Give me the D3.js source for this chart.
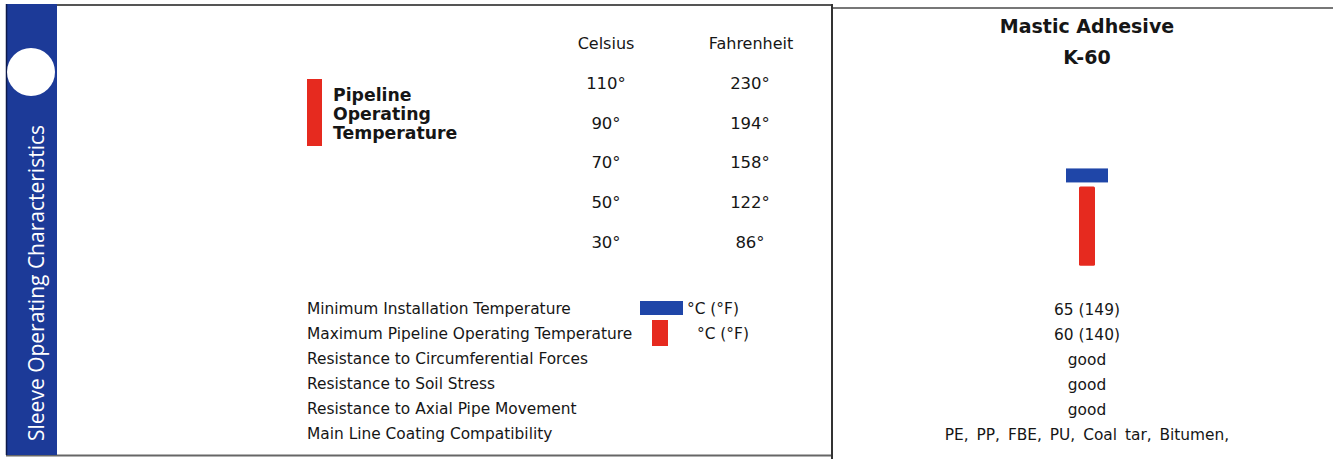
<!DOCTYPE html>
<html>
<head>
<meta charset="utf-8">
<script src="https://cdn.jsdelivr.net/npm/d3@7"></script>
<style>
  body { margin: 0; background: #fff; }
  svg { display: block; }
</style>
</head>
<body>
<div id="chart"></div>
<script>
// temperature scale shown in the middle column
var celsiusTicks = [110, 90, 70, 50, 30];
var fahrenheitTicks = [230, 194, 158, 122, 86];

// property rows and the product's values
var properties = [
    "Minimum Installation Temperature",
    "Maximum Pipeline Operating Temperature",
    "Resistance to Circumferential Forces",
    "Resistance to Soil Stress",
    "Resistance to Axial Pipe Movement",
    "Main Line Coating Compatibility"
];
var productValues = [
    "65 (149)",
    "60 (140)",
    "good",
    "good",
    "good",
    "PE, PP, FBE, PU, Coal tar, Bitumen,"
];
var productName = ["Mastic Adhesive", "K-60"];

// bar values (deg C)
var minInstallTemp = 65;
var maxOperatingTemp = 60;
var barBaseTemp = 18; // estimated bottom of the red bar

var width = 1333, height = 459;
var blue = "#1f46a8", red = "#e62a1f", ink = "#161616";
var font = "'DejaVu Sans', Verdana, sans-serif";

var svg = d3.select("#chart").append("svg")
    .attr("width", width)
    .attr("height", height)
    .style("font-family", font);

// frame lines
svg.append("line").attr("x1", 57).attr("x2", 833).attr("y1", 5).attr("y2", 5)
    .attr("stroke", "#555").attr("stroke-width", 2);
svg.append("line").attr("x1", 833).attr("x2", width).attr("y1", 8).attr("y2", 8)
    .attr("stroke", "#777").attr("stroke-width", 2);
svg.append("line").attr("x1", 6).attr("x2", 833).attr("y1", 455.5).attr("y2", 455.5)
    .attr("stroke", "#666").attr("stroke-width", 2);
svg.append("line").attr("x1", 832).attr("x2", 832).attr("y1", 4).attr("y2", height)
    .attr("stroke", "#333").attr("stroke-width", 2);

// side band
svg.append("rect").attr("x", 6).attr("y", 4).attr("width", 51).attr("height", 451)
    .attr("fill", "#1c3a98");
svg.append("line").attr("x1", 6.5).attr("x2", 6.5).attr("y1", 4).attr("y2", 455)
    .attr("stroke", "#0d1a4a").attr("stroke-width", 1.5);
svg.append("circle").attr("cx", 31).attr("cy", 72).attr("r", 24).attr("fill", "#fff");
svg.append("text")
    .attr("transform", "translate(44,283)rotate(-90)")
    .attr("text-anchor", "middle")
    .style("font-family", "'Open Sans', sans-serif")
    .style("font-size", "21px")
    .style("fill", "#fff")
    .text("Sleeve Operating Characteristics");

// temperature scale
var y = d3.scaleLinear().domain([30, 110]).range([242, 83]);

svg.append("text").attr("x", 606).attr("y", 49).attr("text-anchor", "middle")
    .style("font-size", "16px").style("fill", ink).text("Celsius");
svg.append("text").attr("x", 751).attr("y", 49).attr("text-anchor", "middle")
    .style("font-size", "16px").style("fill", ink).text("Fahrenheit");

var cAxis = svg.append("g")
    .attr("transform", "translate(606,0)")
    .call(d3.axisLeft(y).tickValues(celsiusTicks).tickSize(0).tickPadding(0)
        .tickFormat(function(d) { return d + "°"; }));

var fAxis = svg.append("g")
    .attr("transform", "translate(750,0)")
    .call(d3.axisLeft(y).tickValues(celsiusTicks).tickSize(0).tickPadding(0)
        .tickFormat(function(d, i) { return fahrenheitTicks[i] + "°"; }));

[cAxis, fAxis].forEach(function(a) {
    a.select(".domain").remove();
    a.attr("font-family", font).attr("font-size", 16.5);
    a.selectAll("text").attr("text-anchor", "middle").attr("fill", ink);
});

// pipeline operating temperature key
svg.append("rect").attr("x", 307).attr("y", 79).attr("width", 15).attr("height", 67)
    .attr("fill", red);
svg.append("text")
    .attr("x", 333).attr("y", 101)
    .style("font-size", "17.3px").style("font-weight", "bold").style("fill", ink)
    .selectAll("tspan")
    .data(["Pipeline", "Operating", "Temperature"])
    .enter().append("tspan")
    .attr("x", 333)
    .attr("dy", function(d, i) { return i ? 19 : 0; })
    .text(function(d) { return d; });

// property rows
var rowY = d3.scalePoint().domain(d3.range(properties.length)).range([309, 434]);

svg.selectAll(".prop")
    .data(properties)
    .enter().append("text")
    .attr("class", "prop")
    .attr("x", 307)
    .attr("y", function(d, i) { return rowY(i) + 5; })
    .style("font-size", "15.4px").style("fill", ink)
    .text(function(d) { return d; });

// legend swatches
svg.append("rect").attr("x", 640).attr("y", 301).attr("width", 43).attr("height", 14)
    .attr("fill", blue);
svg.append("rect").attr("x", 652).attr("y", 320).attr("width", 16).attr("height", 26)
    .attr("fill", red);
svg.append("text").attr("x", 687).attr("y", rowY(0) + 5)
    .style("font-size", "15.4px").style("fill", ink).text("°C (°F)");
svg.append("text").attr("x", 697).attr("y", rowY(1) + 5)
    .style("font-size", "15.4px").style("fill", ink).text("°C (°F)");

// product column
var cx = 1087;
svg.selectAll(".pname")
    .data(productName)
    .enter().append("text")
    .attr("class", "pname")
    .attr("x", cx)
    .attr("y", function(d, i) { return 33 + i * 31; })
    .attr("text-anchor", "middle")
    .style("font-size", "19px").style("font-weight", "bold").style("fill", ink)
    .text(function(d) { return d; });

svg.append("rect")
    .attr("x", cx - 8)
    .attr("y", y(maxOperatingTemp) + 4)
    .attr("width", 16)
    .attr("height", y(barBaseTemp) - y(maxOperatingTemp) - 4)
    .attr("rx", 1.5)
    .attr("fill", red);

svg.append("rect")
    .attr("x", cx - 21)
    .attr("y", y(minInstallTemp) - 4)
    .attr("width", 42)
    .attr("height", 14)
    .attr("fill", blue);

svg.selectAll(".pval")
    .data(productValues)
    .enter().append("text")
    .attr("class", "pval")
    .attr("x", cx)
    .attr("y", function(d, i) { return rowY(i) + 6; })
    .attr("text-anchor", "middle")
    .style("font-size", "15.4px").style("fill", ink)
    .style("word-spacing", function(d, i) { return i === productValues.length - 1 ? "3px" : null; })
    .text(function(d) { return d; });
</script>
</body>
</html>
